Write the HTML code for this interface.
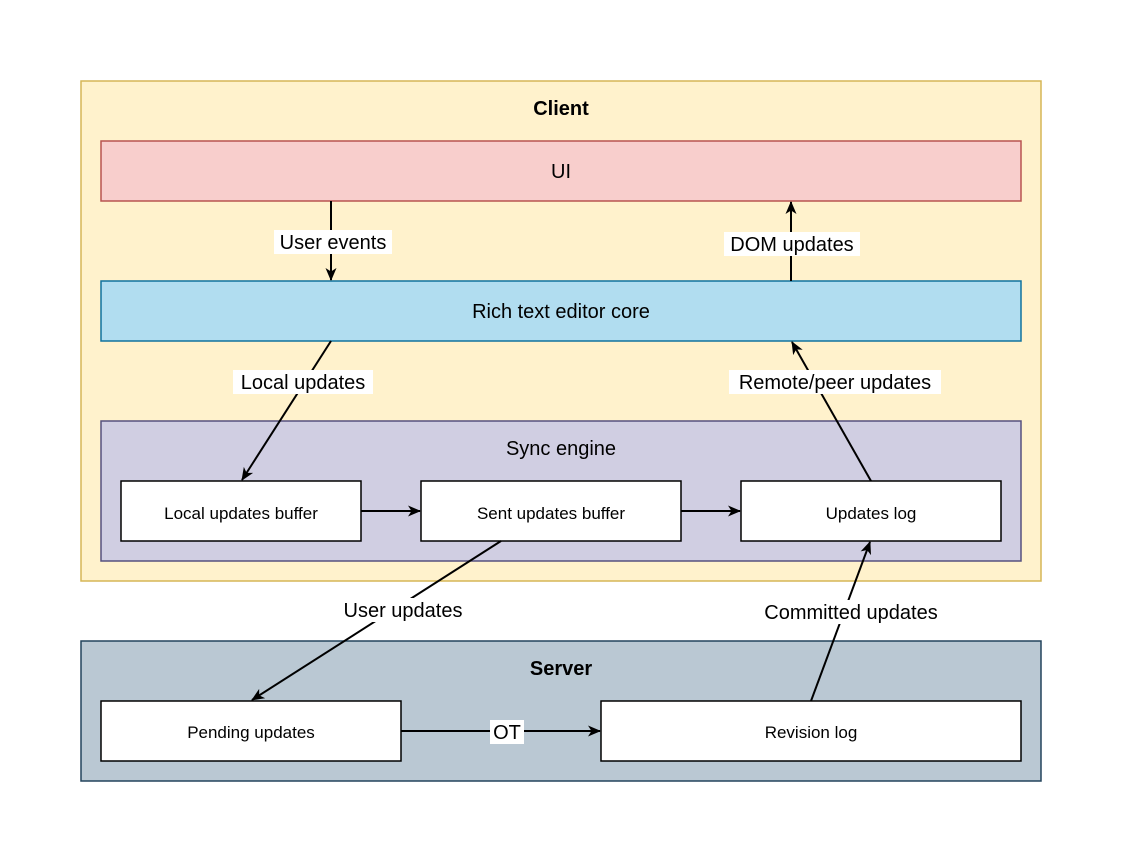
<!DOCTYPE html>
<html><head><style>body{margin:0;background:#fff}svg{display:block}text{font-family:"Liberation Sans",Arial,sans-serif;fill:#000}</style></head><body>
<svg width="1124" height="864" viewBox="0 0 1124 864" xmlns="http://www.w3.org/2000/svg">
<defs><marker id="a" markerWidth="14" markerHeight="14" refX="12" refY="6" orient="auto" markerUnits="userSpaceOnUse"><path d="M0,0.5 L13,6 L0,11.5 L3.5,6 Z" fill="#000"/></marker></defs>
<rect x="81" y="81" width="960" height="500" fill="#fff2cc" stroke="#d6b656" stroke-width="1.5"/>
<text x="561" y="115" font-size="20" font-weight="bold" text-anchor="middle">Client</text>
<rect x="101" y="141" width="920" height="60" fill="#f8cecc" stroke="#b85450" stroke-width="1.5"/>
<text x="561" y="178" font-size="20" text-anchor="middle">UI</text>
<rect x="101" y="281" width="920" height="60" fill="#b1ddf0" stroke="#10739e" stroke-width="1.5"/>
<text x="561" y="318" font-size="20" text-anchor="middle">Rich text editor core</text>
<rect x="101" y="421" width="920" height="140" fill="#d0cee2" stroke="#56517e" stroke-width="1.5"/>
<text x="561" y="455" font-size="20" text-anchor="middle">Sync engine</text>
<g fill="#fff" stroke="#000" stroke-width="1.5">
<rect x="121" y="481" width="240" height="60"/><rect x="421" y="481" width="260" height="60"/><rect x="741" y="481" width="260" height="60"/></g>
<text x="241" y="519" font-size="17" text-anchor="middle">Local updates buffer</text>
<text x="551" y="519" font-size="17" text-anchor="middle">Sent updates buffer</text>
<text x="871" y="519" font-size="17" text-anchor="middle">Updates log</text>
<rect x="81" y="641" width="960" height="140" fill="#bac8d3" stroke="#23445d" stroke-width="1.5"/>
<text x="561" y="675" font-size="20" font-weight="bold" text-anchor="middle">Server</text>
<g fill="#fff" stroke="#000" stroke-width="1.5">
<rect x="101" y="701" width="300" height="60"/><rect x="601" y="701" width="420" height="60"/></g>
<text x="251" y="738" font-size="17" text-anchor="middle">Pending updates</text>
<text x="811" y="738" font-size="17" text-anchor="middle">Revision log</text>
<g stroke="#000" stroke-width="2" fill="none" marker-end="url(#a)">
<line x1="331" y1="201" x2="331" y2="280"/>
<line x1="791" y1="281" x2="791" y2="202"/>
<line x1="331" y1="341" x2="242" y2="480"/>
<line x1="871" y1="481" x2="792" y2="342"/>
<line x1="361" y1="511" x2="420" y2="511"/>
<line x1="681" y1="511" x2="740" y2="511"/>
<line x1="501" y1="541" x2="252" y2="700"/>
<line x1="811" y1="701" x2="870" y2="542"/>
<line x1="401" y1="731" x2="600" y2="731"/>
</g>
<g font-size="20" text-anchor="middle">
<rect x="274" y="230" width="118" height="24" fill="#fff"/><text x="333" y="249">User events</text>
<rect x="724" y="232" width="136" height="24" fill="#fff"/><text x="792" y="251">DOM updates</text>
<rect x="233" y="370" width="140" height="24" fill="#fff"/><text x="303" y="389">Local updates</text>
<rect x="729" y="370" width="212" height="24" fill="#fff"/><text x="835" y="389">Remote/peer updates</text>
<rect x="336" y="598" width="134" height="24" fill="#fff"/><text x="403" y="617">User updates</text>
<rect x="754" y="600" width="194" height="24" fill="#fff"/><text x="851" y="619">Committed updates</text>
<rect x="490" y="720" width="34" height="24" fill="#fff"/><text x="507" y="739">OT</text>
</g>
</svg>
</body></html>
